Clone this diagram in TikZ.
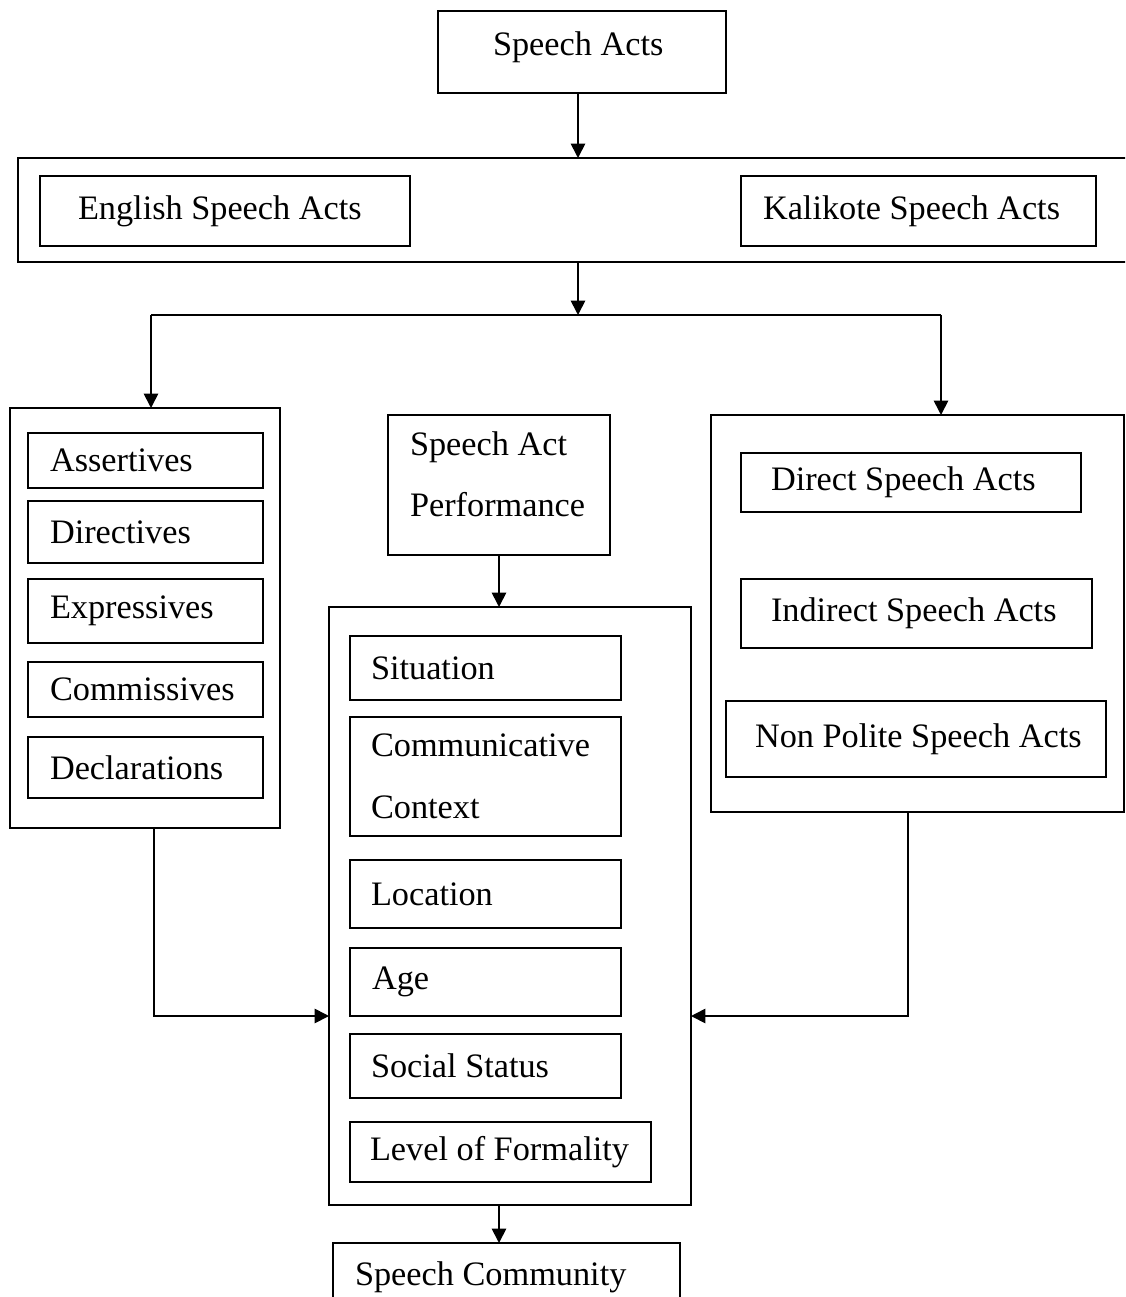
\documentclass[tikz,border=0pt]{standalone}
\usepackage{fontspec}
\setmainfont{Liberation Serif}
\usetikzlibrary{arrows.meta}
\newdimen\px \px=0.35pt
\tikzset{
  frame/.style 2 args={draw, anchor=north west, inner sep=0pt, outer sep=0pt, minimum width=#1*\px, minimum height=#2*\px},
  box/.style n args={3}{draw, anchor=north west, inner xsep=0pt, inner ysep=0pt, outer sep=0pt, align=left, text width=#1*\px, minimum height=#2*\px, execute at begin node={\leftskip=#3\px\spaceskip=0pt\xspaceskip=0pt}},
  arr/.style={-{Triangle[length=5pt,width=5pt]}},
}
\begin{document}
\begin{tikzpicture}[x=0.35pt, y=-0.35pt, line width=0.6pt, font=\fontsize{12}{21.6}\selectfont]
\useasboundingbox (0,0) rectangle (1125,1297);
\clip (0,0) rectangle (1125,1297);
% top
\node[box={288}{82}{55}, text depth=6.1pt] (acts) at (438,11) {Speech Acts};
\node[frame={1120}{104}] (lang) at (18,158) {};
\node[box={370}{70}{38}] (eng) at (40,176) {English Speech Acts};
\node[box={355}{70}{22}] (kal) at (741,176) {Kalikote Speech Acts};
% left column
\node[frame={270}{420}] (types) at (10,408) {};
\node[box={235}{55}{22}] (assert) at (28,433) {Assertives};
\node[box={235}{62}{22}] (direct) at (28,501) {Directives};
\node[box={235}{64}{22}] (express) at (28,579) {Expressives};
\node[box={235}{55}{22}] (commis) at (28,662) {Commissives};
\node[box={235}{61}{22}] (declar) at (28,737) {Declarations};
% middle column
\node[box={222}{140}{22}, text depth=29.3pt] (perf) at (388,415) {Speech Act\\Performance};
\node[frame={362}{598}] (factors) at (329,607) {};
\node[box={271}{64}{21}] (sit) at (350,636) {Situation};
\node[box={271}{119}{21}] (ctx) at (350,717) {Communicative\\Context};
\node[box={271}{68}{21}] (loc) at (350,860) {Location};
\node[box={271}{68}{22}] (age) at (350,948) {Age};
\node[box={271}{64}{21}] (status) at (350,1034) {Social Status};
\node[box={301}{60}{20}] (formal) at (350,1122) {Level of Formality};
\node[box={347}{68}{22}] (comty) at (333,1243) {Speech Community};
% right column
\node[frame={413}{397}] (kinds) at (711,415) {};
\node[box={340}{59}{30}] (dsa) at (741,453) {Direct Speech Acts};
\node[box={351}{69}{30}] (isa) at (741,579) {Indirect Speech Acts};
\node[box={380}{76}{29}] (npsa) at (726,701) {Non Polite Speech Acts};
% connectors
\coordinate (split) at (578,315);
\coordinate (lt) at (151,315);
\coordinate (rt) at (941,315);
\draw[arr] (lang.north |- acts.south) -- (lang.north);
\draw[arr] (lang.south) -- (split);
\draw (lt) -- (rt);
\draw[arr] (lt) -- (lt |- types.north);
\draw[arr] (rt) -- (rt |- kinds.north);
\draw[arr] (perf.south) -- (perf.south |- factors.north);
\draw[arr] (perf.south |- factors.south) -- (perf.south |- comty.north);
\draw[arr] ([xshift=9*\px]types.south) |- (factors.west |- age.south);
\draw[arr] ([xshift=-9.5*\px]kinds.south) |- (factors.east |- age.south);
\end{tikzpicture}
\end{document}
